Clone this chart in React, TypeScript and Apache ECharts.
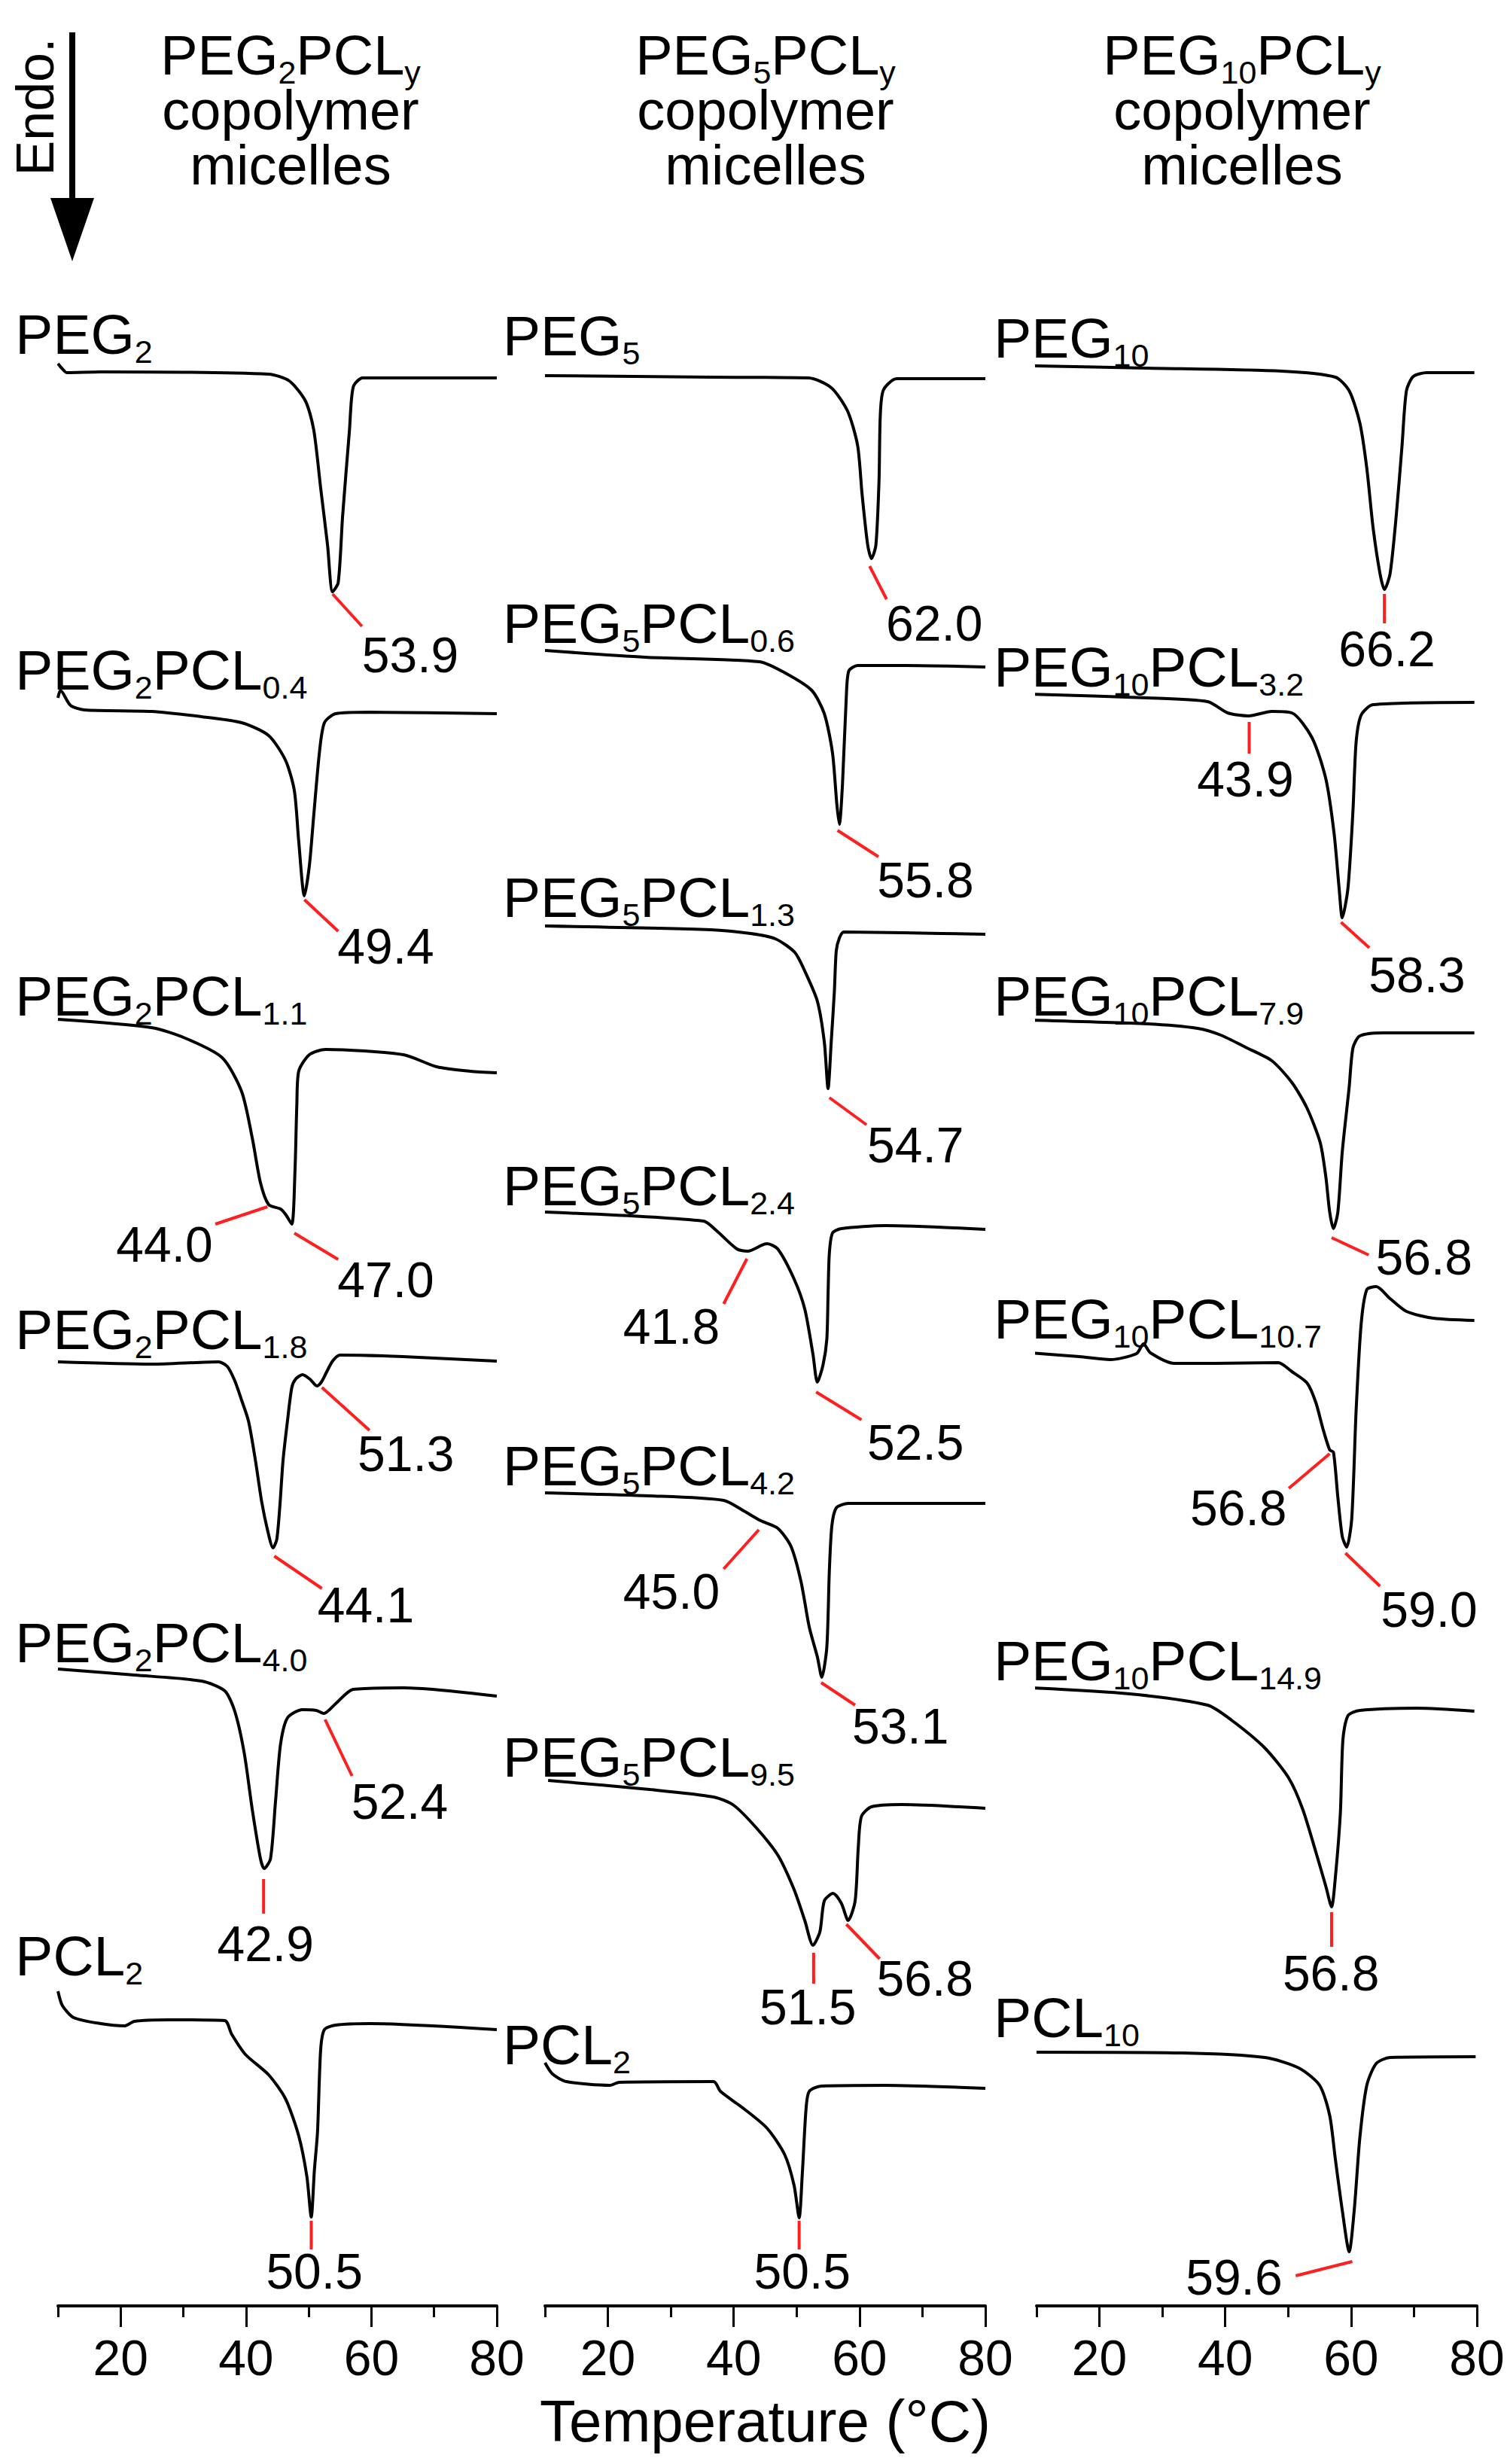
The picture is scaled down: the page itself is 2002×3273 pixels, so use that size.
import React, { useEffect, useRef } from "react";
import * as echarts from "echarts";

type Pt = [number, number];

// Temperature axis (°C)
const T_MIN = 10;
const T_MAX = 80;
const MAJOR_TICKS = [20, 40, 60, 80];
const MINOR_TICKS = [10, 30, 50, 70];
// Stacked heat flow (arbitrary units, exo up)
const HF_MAX = 268;

// ---------- Column 1: PEG2PCLy ----------
const PEG2: Pt[] = [[10.0,258.0],[10.6,257.4],[11.4,256.8],[16.8,256.9],[43.6,256.6],[46.9,255.7],[49.5,253.0],[50.8,249.2],[51.9,241.5],[53.0,233.9],[53.8,227.7],[54.7,228.9],[55.4,237.7],[56.5,249.2],[57.1,254.9],[58.6,256.1],[65.1,256.1],[80.0,256.1]];
const PEG2PCL04: Pt[] = [[10.0,213.6],[10.4,214.6],[12.0,212.6],[14.2,212.0],[24.9,211.8],[32.9,211.1],[39.3,210.3],[43.6,208.6],[46.3,205.3],[47.7,201.3],[48.4,194.6],[49.3,187.3],[50.1,191.3],[50.8,198.0],[51.7,206.3],[52.5,210.3],[54.3,211.5],[59.7,211.7],[80.0,211.5]];
const PEG2PCL11: Pt[] = [[10.0,170.9],[24.9,169.8],[30.3,168.4],[36.2,165.8],[39.3,161.3],[41.0,155.1],[42.3,149.2],[43.6,146.3],[45.5,145.7],[46.3,145.0],[47.3,143.7],[47.8,150.6],[48.1,159.5],[48.4,164.0],[50.1,166.2],[52.7,166.9],[65.1,166.2],[70.4,164.6],[75.8,164.0],[80.0,163.8]];
const PEG2PCL18: Pt[] = [[10.0,125.4],[24.9,125.1],[35.6,125.4],[37.0,124.8],[38.2,122.9],[39.3,120.3],[40.4,117.5],[41.5,112.3],[42.5,106.8],[43.5,102.8],[44.3,100.7],[44.9,101.8],[45.4,106.3],[45.9,112.3],[46.6,117.5],[47.3,122.0],[47.9,123.1],[49.0,123.7],[50.2,123.1],[51.3,122.2],[52.0,122.7],[52.7,123.8],[53.8,125.5],[55.0,126.3],[65.0,126.1],[80.0,125.5]];
const PEG2PCL40: Pt[] = [[10.0,84.6],[22.2,83.8],[32.9,83.0],[36.6,81.7],[38.2,79.0],[39.7,73.5],[41.0,65.9],[42.3,59.4],[42.9,58.1],[43.9,59.4],[44.7,67.0],[45.5,74.6],[46.6,78.1],[49.0,79.2],[51.2,79.1],[52.4,78.7],[54.3,80.0],[57.1,81.9],[65.1,82.1],[80.0,81.0]];
const PCL2_A: Pt[] = [[10.0,41.8],[10.7,39.9],[12.5,38.3],[16.8,37.5],[20.6,37.2],[22.2,37.8],[27.5,38.0],[36.6,37.9],[37.7,36.1],[39.9,33.4],[43.6,30.7],[46.3,27.5],[48.4,22.6],[49.7,17.2],[50.4,11.8],[50.9,18.0],[51.4,23.1],[51.9,34.0],[52.5,36.7],[54.3,37.3],[59.7,37.5],[80.0,36.7]];

// ---------- Column 2: PEG5PCLy ----------
const PEG5: Pt[] = [[10,256.4],[36.3,256.2],[51.9,256.1],[55.5,254.8],[58.1,251.7],[59.7,247.1],[60.4,240.7],[61.3,233.9],[61.9,232.1],[62.6,233.9],[63.1,242.5],[63.3,251.1],[63.8,254.5],[65.9,256.0],[80,256.0]];
const PEG5PCL06: Pt[] = [[10,219.9],[25.9,219.0],[44.1,218.4],[48.2,216.9],[52.4,214.6],[54.4,211.5],[55.7,206.3],[56.4,199.4],[56.8,196.8],[57.3,202.3],[57.9,213.8],[58.3,217.2],[59.7,217.9],[67.4,217.9],[80,217.7]];
const PEG5PCL13: Pt[] = [[10,183.3],[36.3,182.8],[42.7,182.3],[46.6,181.6],[49.7,179.8],[51.3,177.3],[53.3,173.3],[54.4,167.9],[55.0,161.7],[55.5,167.9],[56.0,174.6],[56.3,180.0],[56.8,181.7],[57.5,182.5],[67,182.4],[80,182.2]];
const PEG5PCL24: Pt[] = [[10,145.3],[35.2,144.1],[37.3,142.8],[40.5,140.4],[42.2,140.1],[45.3,141.1],[47.0,140.4],[49.6,136.4],[51.3,132.4],[52.6,126.4],[53.3,122.7],[54.2,125.0],[54.8,128.4],[55.0,134.4],[55.2,139.8],[55.7,142.5],[57.1,143.1],[64.1,143.5],[80,143.0]];
const PEG5PCL42: Pt[] = [[10,108.0],[26.6,107.6],[38.4,107.0],[41.6,105.6],[44.3,104.3],[47.0,103.3],[49.1,100.9],[50.7,96.2],[52.0,90.2],[53.3,86.2],[54.0,83.5],[54.8,87.5],[55.2,97.6],[55.6,103.6],[56.3,106.0],[58.2,106.6],[80,106.6]];
const PEG5PCL95: Pt[] = [[10.5,69.8],[26.6,68.6],[36.8,67.6],[40.0,66.5],[43.7,63.4],[47.0,59.9],[49.6,55.3],[51.3,51.2],[52.6,47.9],[53.7,49.7],[54.4,53.8],[55.8,54.8],[57.1,53.5],[58.2,51.2],[59.3,53.8],[59.8,60.9],[60.3,65.0],[61.9,66.3],[66.7,66.6],[80,66.1]];
const PCL2_B: Pt[] = [[10,32.3],[11.2,30.8],[13.4,29.8],[20.3,29.3],[21.8,29.7],[36.8,29.8],[37.9,28.5],[41.6,26.2],[45.3,23.6],[48.1,20.1],[49.6,16.0],[50.4,11.7],[50.9,17.5],[51.5,26.2],[52.0,28.5],[53.9,29.2],[64.1,29.3],[80,28.9]];

// ---------- Column 3: PEG10PCLy ----------
const PEG10: Pt[] = [[9.0,257.7],[27.6,257.4],[49.0,257.0],[57.5,256.2],[59.7,254.4],[61.4,250.1],[62.5,244.1],[63.5,236.2],[64.6,230.1],[65.3,228.0],[66.2,230.1],[67.2,238.0],[68.1,247.1],[68.8,254.4],[69.9,256.3],[72.0,256.8],[79.6,256.8]];
const PEG10PCL32: Pt[] = [[9.0,214.1],[27.6,213.6],[37.2,213.1],[40.4,211.6],[43.7,211.2],[47.4,211.8],[50.6,211.6],[53.8,208.3],[56.0,202.8],[57.3,195.6],[58.1,188.3],[58.6,184.4],[59.5,188.3],[60.3,198.6],[60.8,207.7],[61.6,211.3],[63.5,212.7],[79.6,213.0]];
const PEG10PCL79: Pt[] = [[9.0,170.8],[27.6,170.3],[35.6,169.7],[39.3,168.8],[43.2,167.2],[47.4,165.4],[50.6,162.5],[53.0,159.1],[55.1,154.5],[56.0,149.9],[56.6,145.3],[57.2,143.1],[57.9,145.3],[58.6,153.3],[59.7,161.9],[60.3,167.1],[61.4,168.7],[65.1,169.1],[79.6,169.1]];
const PEG10PCL107: Pt[] = [[9.0,126.6],[16.8,126.1],[21.7,125.7],[25.9,126.5],[27.0,127.8],[28.1,126.6],[31.9,125.2],[38.3,125.2],[48.4,125.3],[50.6,124.1],[53.0,122.6],[54.4,120.0],[55.5,116.6],[56.6,113.7],[57.2,113.4],[57.9,107.4],[58.6,102.2],[59.3,100.8],[60.1,104.5],[60.8,118.9],[61.6,130.4],[62.5,135.0],[64.0,135.4],[66.2,133.8],[68.8,132.1],[73.1,131.2],[79.6,130.9]];
const PEG10PCL149: Pt[] = [[9.0,82.1],[24.8,81.3],[37.2,79.8],[41.0,77.8],[46.3,74.1],[50.1,70.1],[52.3,66.0],[54.4,60.3],[56.0,55.7],[56.9,53.0],[57.5,56.9],[58.3,65.5],[58.7,75.2],[59.5,78.4],[61.4,79.1],[70.5,79.4],[79.6,79.0]];
const PCL10: Pt[] = [[10,33.7],[33.1,33.6],[46.3,33.0],[51.7,31.6],[55.0,29.3],[56.6,25.3],[57.5,19.5],[58.6,12.7],[59.7,7.2],[60.5,12.7],[61.4,22.4],[62.5,29.3],[64.0,32.2],[66.2,33.0],[79.8,33.1]];

// Sample names (subscripts in braces) and where they sit, per column
const NAMES_1 = ["PEG{2}", "PEG{2}PCL{0.4}", "PEG{2}PCL{1.1}", "PEG{2}PCL{1.8}", "PEG{2}PCL{4.0}", "PCL{2}"];
const NAMES_2 = ["PEG{5}", "PEG{5}PCL{0.6}", "PEG{5}PCL{1.3}", "PEG{5}PCL{2.4}", "PEG{5}PCL{4.2}", "PEG{5}PCL{9.5}", "PCL{2}"];
const NAMES_3 = ["PEG{10}", "PEG{10}PCL{3.2}", "PEG{10}PCL{7.9}", "PEG{10}PCL{10.7}", "PEG{10}PCL{14.9}", "PCL{10}"];
const NAME_AT_1: Pt[] = [[3.2,261.9],[3.2,217.3],[3.2,174.0],[3.2,129.7],[3.2,88.1],[3.2,46.5]];
const NAME_AT_2: Pt[] = [[3.3,261.7],[3.3,223.5],[3.3,187.1],[3.3,148.8],[3.3,111.6],[3.3,72.9],[3.3,34.7]];
const NAME_AT_3: Pt[] = [[3.2,261.4],[3.2,217.7],[3.2,174.0],[3.2,131.1],[3.2,85.7],[3.2,38.3]];

// Peak temperatures (°C): leader from the peak, and where the value is written
type Note = { text: string; from: Pt; to: Pt; at: Pt };
const NOTES_1: Note[] = [
  { text: "53.9", from: [53.8,227.4], to: [58.5,223.1], at: [66.2,219.3] },
  { text: "49.4", from: [49.3,186.8], to: [54.7,182.6], at: [62.3,180.6] },
  { text: "44.0", from: [43.4,146.0], to: [35.1,143.7], at: [27.0,141.0] },
  { text: "47.0", from: [47.7,142.5], to: [54.7,139.0], at: [62.3,136.3] },
  { text: "51.3", from: [52.1,122.0], to: [59.7,116.3], at: [65.5,113.2] },
  { text: "44.1", from: [44.5,99.6], to: [52.1,95.3], at: [59.1,93.1] },
  { text: "52.4", from: [52.6,77.9], to: [56.9,70.4], at: [64.5,67.0] },
  { text: "42.9", from: [42.8,56.7], to: [42.8,52.1], at: [43.1,48.1] },
  { text: "50.5", from: [50.4,11.3], to: [50.4,7.5], at: [50.9,4.6] },
];
const NOTES_2: Note[] = [
  { text: "62.0", from: [61.6,231.1], to: [64.3,226.7], at: [71.9,223.5] },
  { text: "55.8", from: [56.5,196.0], to: [63.0,192.5], at: [70.5,189.4] },
  { text: "54.7", from: [55.2,160.5], to: [61.1,156.9], at: [68.9,154.2] },
  { text: "41.8", from: [42.1,139.1], to: [38.4,133.1], at: [30.1,130.1] },
  { text: "52.5", from: [53.1,121.4], to: [60.3,117.7], at: [68.9,114.7] },
  { text: "45.0", from: [44.0,103.1], to: [38.4,97.9], at: [30.1,94.9] },
  { text: "53.1", from: [53.9,82.8], to: [59.3,79.8], at: [66.5,77.0] },
  { text: "51.5", from: [52.7,46.9], to: [52.7,42.8], at: [51.8,39.7] },
  { text: "56.8", from: [57.9,50.7], to: [63.2,46.1], at: [70.4,43.5] },
  { text: "50.5", from: [50.4,11.3], to: [50.4,7.5], at: [50.9,4.6] },
];
const NOTES_3: Note[] = [
  { text: "66.2", from: [65.3,227.4], to: [65.3,223.5], at: [65.7,220.1] },
  { text: "43.9", from: [43.8,210.4], to: [43.8,206.2], at: [43.2,202.8] },
  { text: "58.3", from: [58.4,183.8], to: [62.9,180.4], at: [70.5,176.8] },
  { text: "56.8", from: [56.9,141.9], to: [62.8,139.6], at: [71.6,139.3] },
  { text: "56.8", from: [56.6,113.2], to: [50.1,108.6], at: [42.1,106.0] },
  { text: "59.0", from: [59.1,100.0], to: [64.6,95.6], at: [72.4,92.5] },
  { text: "56.8", from: [56.9,52.3], to: [56.9,47.7], at: [56.8,44.2] },
  { text: "59.6", from: [60.2,5.9], to: [51.2,4.0], at: [41.4,3.8] },
];

const CURVES_1 = [PEG2, PEG2PCL04, PEG2PCL11, PEG2PCL18, PEG2PCL40, PCL2_A];
const CURVES_2 = [PEG5, PEG5PCL06, PEG5PCL13, PEG5PCL24, PEG5PCL42, PEG5PCL95, PCL2_B];
const CURVES_3 = [PEG10, PEG10PCL32, PEG10PCL79, PEG10PCL107, PEG10PCL149, PCL10];

const HEADERS = ["PEG{2}PCL{y}", "PEG{5}PCL{y}", "PEG{10}PCL{y}"];
const HEADER_LINE2 = "copolymer";
const HEADER_LINE3 = "micelles";
const X_NAME = "Temperature (°C)";
const ENDO = "Endo.";

const FONT = "'Liberation Sans', Arial, Helvetica, sans-serif";
const RED = "#ff1f1f";
const INK = "#000000";

const toRich = (s: string) => s.replace(/\{([^}]*)\}/g, "{s|$1}");

export default function App() {
  const ref = useRef<HTMLDivElement>(null);
  useEffect(() => {
    if (!ref.current) return;
    const chart = echarts.init(ref.current, null, { renderer: "svg" });

    const panels = [
      { curves: CURVES_1, names: NAMES_1, nameAt: NAME_AT_1, notes: NOTES_1 },
      { curves: CURVES_2, names: NAMES_2, nameAt: NAME_AT_2, notes: NOTES_2 },
      { curves: CURVES_3, names: NAMES_3, nameAt: NAME_AT_3, notes: NOTES_3 },
    ];
    const gridBoxes = [
      { left: 77, width: 583 },
      { left: 724, width: 585 },
      { left: 1377, width: 585 },
    ];

    const grid = gridBoxes.map((g) => ({ left: g.left, width: g.width, top: 383, bottom: 210 }));
    const xMain = gridBoxes.map((_, i) => ({
      type: "value",
      gridIndex: i,
      min: T_MIN,
      max: T_MAX,
      interval: 10,
      position: "bottom",
      name: i === 1 ? X_NAME : "",
      nameLocation: "middle",
      nameGap: 114,
      nameTextStyle: { fontSize: 78, color: INK, fontFamily: FONT },
      axisLine: { show: true, onZero: false, lineStyle: { color: INK, width: 4 } },
      axisTick: { show: true, customValues: MAJOR_TICKS, length: 28, lineStyle: { color: INK, width: 3 } },
      axisLabel: { show: true, customValues: MAJOR_TICKS, fontSize: 66, margin: 36, color: INK, fontFamily: FONT },
      splitLine: { show: false },
    }));
    const xMinor = gridBoxes.map((_, i) => ({
      type: "value",
      gridIndex: i,
      min: T_MIN,
      max: T_MAX,
      interval: 10,
      position: "bottom",
      axisLine: { show: false, onZero: false },
      axisTick: { show: true, customValues: MINOR_TICKS, length: 15, lineStyle: { color: INK, width: 3 } },
      axisLabel: { show: false },
      splitLine: { show: false },
    }));
    const yAxes = gridBoxes.map((_, i) => ({
      type: "value",
      gridIndex: i,
      min: 0,
      max: HF_MAX,
      show: false,
      splitLine: { show: false },
    }));

    const series: any[] = [];
    panels.forEach((p, i) => {
      p.curves.forEach((c) => {
        series.push({
          type: "line",
          xAxisIndex: i,
          yAxisIndex: i,
          data: c,
          symbol: "none",
          smooth: 0.25,
          clip: false,
          silent: true,
          lineStyle: { color: INK, width: 4 },
        });
      });
      p.notes.forEach((n) => {
        series.push({
          type: "line",
          xAxisIndex: i,
          yAxisIndex: i,
          data: [n.from, n.to],
          symbol: "none",
          clip: false,
          silent: true,
          lineStyle: { color: RED, width: 4 },
        });
      });
      series.push({
        type: "scatter",
        xAxisIndex: i,
        yAxisIndex: i,
        symbolSize: 1,
        clip: false,
        silent: true,
        itemStyle: { color: INK, opacity: 0 },
        data: p.notes.map((n) => ({ name: n.text, value: n.at })),
        label: {
          show: true,
          position: "inside",
          align: "center",
          verticalAlign: "middle",
          formatter: "{b}",
          fontSize: 66,
          color: INK,
          opacity: 1,
          textBorderWidth: 0,
          textBorderColor: "transparent",
          fontFamily: FONT,
        },
      });
      series.push({
        type: "scatter",
        xAxisIndex: i,
        yAxisIndex: i,
        symbolSize: 1,
        clip: false,
        silent: true,
        itemStyle: { color: INK, opacity: 0 },
        data: p.names.map((nm, k) => ({ name: nm, value: p.nameAt[k] })),
        label: {
          show: true,
          position: "inside",
          align: "left",
          verticalAlign: "middle",
          formatter: (q: any) => toRich(q.name),
          fontSize: 75,
          lineHeight: 88,
          color: INK,
          opacity: 1,
          textBorderWidth: 0,
          textBorderColor: "transparent",
          fontFamily: FONT,
          rich: {
            s: { fontSize: 43, lineHeight: 88, verticalAlign: "bottom", color: INK, fontFamily: FONT, textBorderWidth: 0 },
          },
        },
      });
    });

    const headerX = [386, 1017, 1650];
    const graphic: any[] = [];
    headerX.forEach((x, i) => {
      graphic.push({
        type: "text",
        x,
        y: 73,
        style: {
          text: toRich(HEADERS[i]),
          align: "center",
          verticalAlign: "middle",
          fontSize: 74,
          lineHeight: 88,
          fontFamily: FONT,
          fill: INK,
          rich: { s: { fontSize: 43, lineHeight: 88, verticalAlign: "bottom", fontFamily: FONT, fill: INK } },
        },
      });
      graphic.push({
        type: "text",
        x,
        y: 146,
        style: { text: HEADER_LINE2, align: "center", verticalAlign: "middle", fontSize: 74, fontFamily: FONT, fill: INK },
      });
      graphic.push({
        type: "text",
        x,
        y: 219,
        style: { text: HEADER_LINE3, align: "center", verticalAlign: "middle", fontSize: 74, fontFamily: FONT, fill: INK },
      });
    });
    graphic.push({
      type: "text",
      x: 47,
      y: 142,
      rotation: Math.PI / 2,
      style: { text: ENDO, align: "center", verticalAlign: "middle", fontSize: 70, fontFamily: FONT, fill: INK },
    });
    graphic.push({
      type: "line",
      shape: { x1: 96, y1: 43, x2: 96, y2: 272 },
      style: { stroke: INK, lineWidth: 8 },
    });
    graphic.push({
      type: "polygon",
      shape: { points: [[67, 263], [125, 263], [96, 347]] },
      style: { fill: INK },
    });

    chart.setOption({
      animation: false,
      backgroundColor: "#fff",
      textStyle: { fontFamily: FONT, color: INK },
      grid,
      xAxis: [...xMain, ...xMinor],
      yAxis: yAxes,
      series,
      graphic,
    });
    return () => chart.dispose();
  }, []);
  return <div ref={ref} style={{ position: "absolute", left: 0, top: 0, width: 2002, height: 3273 }} />;
}
